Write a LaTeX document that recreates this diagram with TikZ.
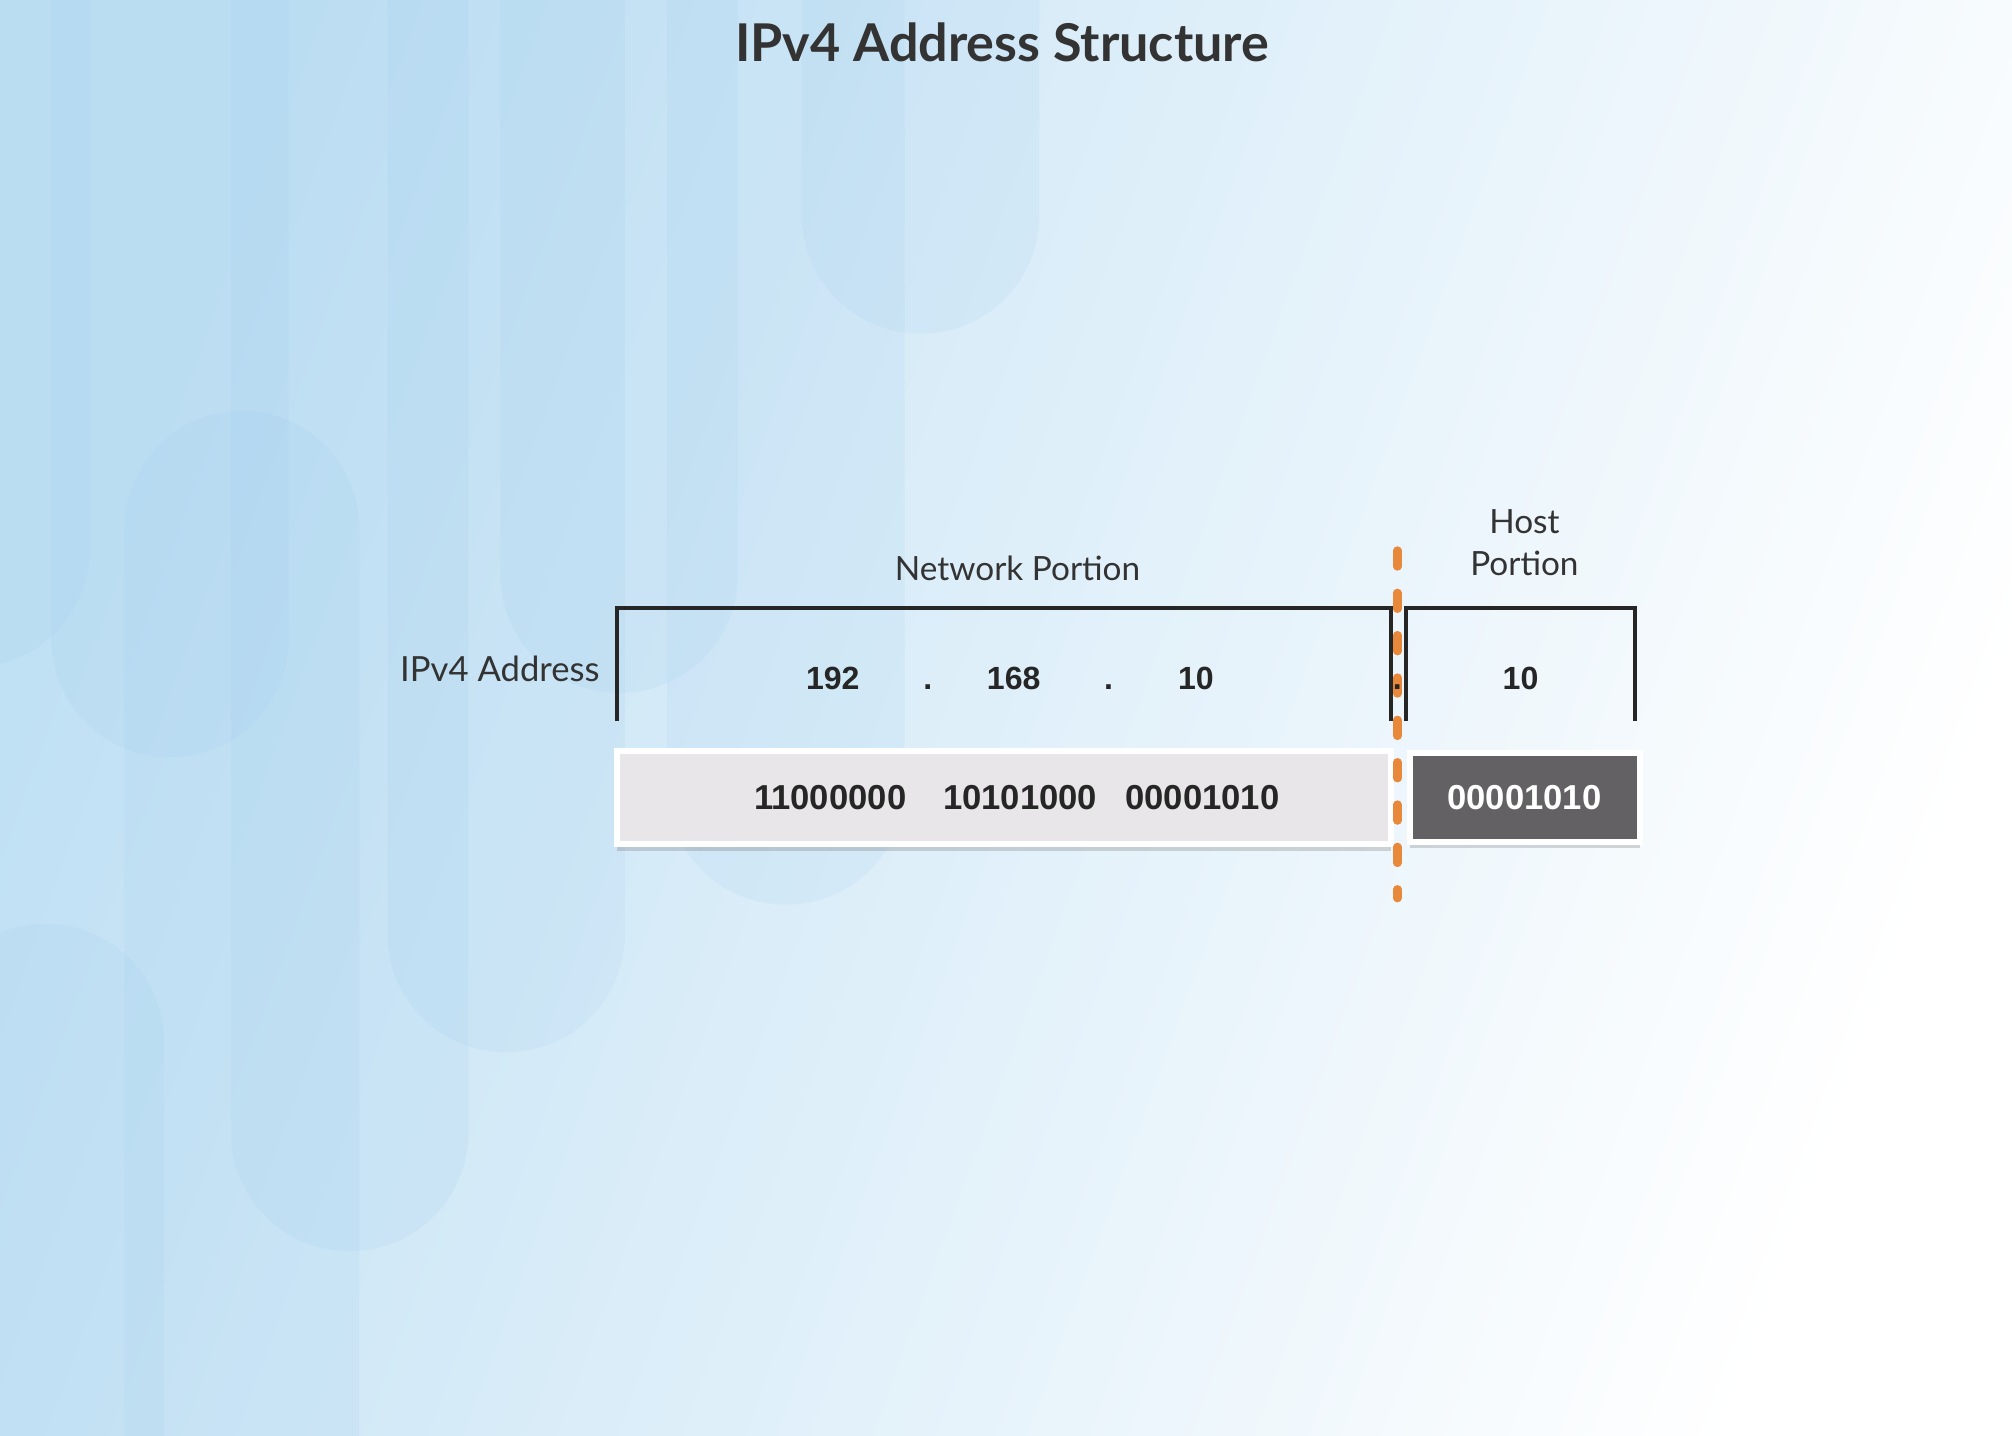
\documentclass[tikz,border=0pt]{standalone}
\usepackage{fontspec}
\setmainfont{Lato}
\newfontfamily\numfont{Liberation Sans}
\usetikzlibrary{shadows}

\definecolor{bgblue}{RGB}{192,224,244}
\definecolor{pillblue}{RGB}{150,200,235}
\definecolor{textgray}{RGB}{51,51,51}
\definecolor{netgray}{RGB}{232,230,232}
\definecolor{hostgray}{RGB}{99,97,99}
\definecolor{cutorange}{RGB}{232,136,58}

\tikzset{
  headline/.style={text=textgray, font=\bfseries\fontsize{4.06mm}{4.8mm}\selectfont, inner sep=0pt},
  lbl/.style={text=textgray, font=\fontsize{2.6mm}{3.3mm}\selectfont, inner sep=0pt},
  octet/.style={text=black!85, font=\numfont\bfseries\fontsize{2.5mm}{3mm}\selectfont, inner sep=0pt, anchor=base},
  bits/.style={octet, font=\numfont\bfseries\fontsize{2.7mm}{3mm}\selectfont},
  binbox/.style={draw=white, line width=0.45mm, inner sep=0pt,
    drop shadow={shadow xshift=0mm, shadow yshift=-0.5mm, opacity=0.25, fill=black!60}},
  pill/.style={fill=pillblue, opacity=0.12, rounded corners=9.2mm},
  bracket/.style={draw=black!85, line width=0.3mm},
  divider/.style={draw=cutorange, line width=0.65mm, line cap=round, dash pattern=on 1.25mm off 2.05mm}
}

\begin{document}
\begin{tikzpicture}[x=0.1mm, y=-0.1mm]

% Page frame and background wash
\useasboundingbox (0,0) rectangle (1568,1119);
\clip (0,0) rectangle (1568,1119);
\shade[left color=bgblue, right color=white, shading angle=70] (0,0) rectangle (1568,1119);

% Soft vertical pills in the background
\fill[pill] (-120,-100) rectangle (70,520);
\fill[pill] (40,-100) rectangle (225,590);
\fill[pill] (97,320) rectangle (280,1300);
\fill[pill] (180,-100) rectangle (365,975);
\fill[pill] (302,-100) rectangle (487,820);
\fill[pill] (390,-100) rectangle (575,540);
\fill[pill] (520,-100) rectangle (705,705);
\fill[pill] (625,-100) rectangle (810,260);
\fill[pill] (-57,720) rectangle (128,1300);

% Title and labels
\node[headline] (title) at (781,33) {IPv4 Address Structure};
\node[lbl] (netlabel) at (793,443) {Network Portion};
\node[lbl, align=center] (hostlabel) at (1188,423) {Host\\Portion};
\node[lbl, anchor=east, font=\fontsize{2.7mm}{3.3mm}\selectfont] (addrlabel) at (468,521) {IPv4 Address};

% Brackets over the two portions
\coordinate (netbl) at (481,562);
\coordinate (nettl) at (481,474);
\coordinate (nettr) at (1084,474);
\coordinate (netbr) at (1084,562);
\coordinate (hostbl) at (1096,562);
\coordinate (hosttl) at (1096,474);
\coordinate (hosttr) at (1274,474);
\coordinate (hostbr) at (1274,562);
\draw[bracket] (netbl) -- (nettl) -- (nettr) -- (netbr);
\draw[bracket] (hostbl) -- (hosttl) -- (hosttr) -- (hostbr);

% Dotted decimal octets
\node[octet] (oct1) at (649,537) {192};
\node[octet] (dot1) at (723,537) {.};
\node[octet] (oct2) at (790,537) {168};
\node[octet] (dot2) at (864,537) {.};
\node[octet] (oct3) at (932,537) {10};
\node[octet] (oct4) at (1185,537) {10};

% Binary boxes
\node[binbox, fill=netgray, minimum width=60.3mm, minimum height=7.3mm] (netbin) at (782.5,621.5) {};
\node[binbox, fill=hostgray, minimum width=17.9mm, minimum height=6.9mm] (hostbin) at (1188.5,621.5) {};
\node[bits] (bin1) at (647,631) {11000000};
\node[bits] (bin2) at (795,631) {10101000};
\node[bits] (bin3) at (937,631) {00001010};
\node[bits, text=white] (bin4) at (1188,631) {00001010};

% Network / host cut
\coordinate (cuttop) at (1089,429);
\coordinate (cutbot) at (1089,700);
\draw[divider] (cuttop) -- (cutbot);
\node[octet] (dot3) at (1089,537) {.};

\end{tikzpicture}
\end{document}
